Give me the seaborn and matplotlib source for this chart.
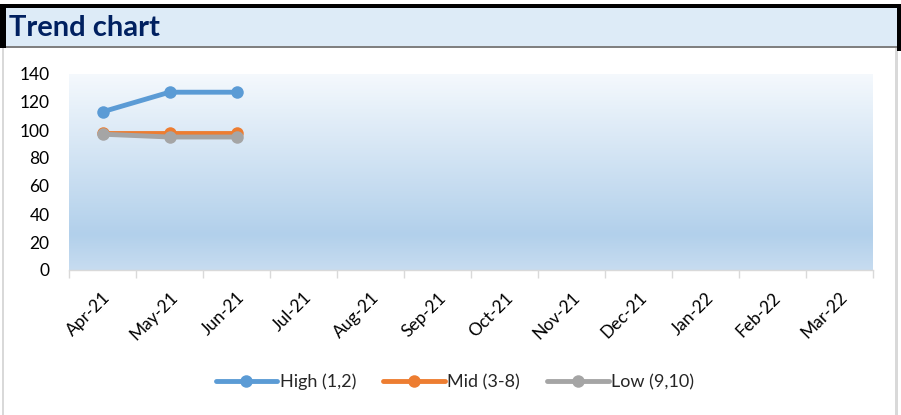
import numpy as np
import pandas as pd
import matplotlib
matplotlib.use("Agg")
import matplotlib.pyplot as plt
from matplotlib.patches import Rectangle
from matplotlib.colors import LinearSegmentedColormap
from matplotlib.lines import Line2D
import seaborn as sns

# ---- data ----
months = ["Apr-21", "May-21", "Jun-21", "Jul-21", "Aug-21", "Sep-21",
          "Oct-21", "Nov-21", "Dec-21", "Jan-22", "Feb-22", "Mar-22"]
series_names = ["High (1,2)", "Mid (3-8)", "Low (9,10)"]
high_vals = [113, 127, 127]
mid_vals = [98, 98, 98]
low_vals = [97, 95, 95]
y_ticks = [0, 20, 40, 60, 80, 100, 120, 140]

colors = {"High (1,2)": "#5B9BD5", "Mid (3-8)": "#ED7D31", "Low (9,10)": "#A5A5A5"}

rows = []
for name, vals in zip(series_names, [high_vals, mid_vals, low_vals]):
    for i, v in enumerate(vals):
        rows.append({"month_idx": i, "value": v, "series": name})
df = pd.DataFrame(rows)

sns.set_theme(style="white")
plt.rcParams["font.family"] = ["Lato", "DejaVu Sans"]

W, H = 901, 415
fig = plt.figure(figsize=(W / 100, H / 100), dpi=100)
fig.patch.set_facecolor("white")

def px_rect(x0, y0, x1, y1, color, z=0):
    fig.patches.append(Rectangle((x0 / W, 1 - y1 / H), (x1 - x0) / W, (y1 - y0) / H,
                                 transform=fig.transFigure, facecolor=color,
                                 edgecolor="none", zorder=z))

# outer chart frame (light grey) and header band
px_rect(2, 47, 4, 415, "#D9D9D9")
px_rect(895, 47, 898, 415, "#D9D9D9")
px_rect(0, 4, 901, 8, "black")
px_rect(0, 4, 6, 48, "black")
px_rect(897, 8, 901, 51, "black")
px_rect(6, 8, 897, 47, "#DDEBF7")
px_rect(6, 46, 897, 48, "#808080")
fig.text(9 / W, 1 - 28 / H, "Trend chart", fontsize=21, fontweight="bold",
         color="#002060", va="center", ha="left")

# plot area
ax = fig.add_axes([69 / W, 1 - 270 / H, (873 - 69) / W, (270 - 74) / H])
ax.set_facecolor("none")

# vertical gradient fill behind the data
grad_cmap = LinearSegmentedColormap.from_list(
    "area", [(0.0, "#F5F9FD"), (0.82, "#B2D0EB"), (1.0, "#C7DCF0")])
grad = np.linspace(0, 1, 256).reshape(-1, 1)
ax.imshow(grad, cmap=grad_cmap, aspect="auto", extent=[-0.5, 11.5, 0, 140],
          origin="upper", zorder=0)

sns.lineplot(data=df, x="month_idx", y="value", hue="series",
             hue_order=series_names, palette=colors, marker="o",
             markersize=9, markeredgewidth=0, linewidth=3.5,
             legend=False, ax=ax, zorder=3)

ax.set_xlim(-0.5, 11.5)
ax.set_ylim(0, 140)
ax.set_yticks(y_ticks)
ax.set_yticklabels([str(v) for v in y_ticks], fontsize=12.5, color="black")
ax.tick_params(axis="y", length=0, pad=14)

ax.set_xticks(np.arange(len(months)))
ax.set_xticklabels(months, fontsize=12.5, rotation=45, ha="right",
                   rotation_mode="anchor", color="black")
ax.set_xticks(np.arange(-0.5, len(months)), minor=True)
ax.tick_params(axis="x", which="major", length=0, pad=14)
ax.tick_params(axis="x", which="minor", length=6, width=1, color="#D9D9D9",
               bottom=True, direction="out")
ax.set_xlabel("")
ax.set_ylabel("")
for side in ["top", "right", "left"]:
    ax.spines[side].set_visible(False)
ax.spines["bottom"].set_color("#D9D9D9")
ax.spines["bottom"].set_linewidth(1)

handles = [Line2D([0], [0], color=colors[n], lw=3.5, marker="o", markersize=9,
                  markeredgewidth=0) for n in series_names]
fig.legend(handles, series_names, loc="center", bbox_to_anchor=(455 / W, 1 - 382 / H),
           ncol=3, frameon=False, fontsize=13, handlelength=3.4, handletextpad=0.15,
           columnspacing=1.5)

fig.savefig("out.png", dpi=100)
